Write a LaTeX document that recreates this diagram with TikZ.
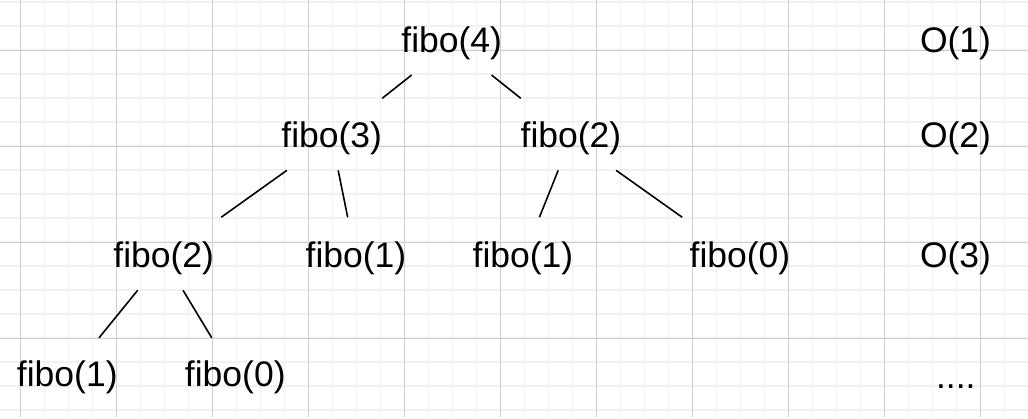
\documentclass[tikz,border=0pt]{standalone}
\usepackage{fontspec}
\setmainfont{Liberation Sans}
\usetikzlibrary{calc}
\definecolor{gridminor}{HTML}{F1F1F1}
\definecolor{gridmajor}{HTML}{D0D0D0}
\tikzset{
  lbl/.style={anchor=base, inner sep=0pt, text height=25.9pt, text depth=7.5pt, font=\fontsize{35.5}{40}\selectfont, text=black},
  edge/.style={draw=black, line width=1.6pt},
  minorline/.style={draw=gridminor, line width=1.5pt},
  majorline/.style={draw=gridmajor, line width=1pt}
}
\begin{document}
\begin{tikzpicture}[x=1pt,y=-1pt]
\useasboundingbox (0,0) rectangle (1028,418);
\fill[white] (0,0) rectangle (1028,418);
% grid
\foreach \k in {0,...,42} {
  \draw[minorline] ({20.5+24*\k},0) -- ({20.5+24*\k},418);
}
\foreach \k in {0,...,17} {
  \draw[minorline] (0,{2+24*\k}) -- (1028,{2+24*\k});
}
\foreach \k in {0,...,10} {
  \draw[majorline] ({20.5+96*\k},0) -- ({20.5+96*\k},418);
}
\foreach \k in {0,...,3} {
  \draw[majorline] (0,{50+96*\k}) -- (1028,{50+96*\k});
}
% nodes
\node[lbl] (f4)  at (451.7,52.5) {fibo(4)};
\node[lbl] (f3)  at (331.7,147.5) {fibo(3)};
\node[lbl] (f2r) at (571,147.5) {fibo(2)};
\node[lbl] (f2l) at (163.7,267.5) {fibo(2)};
\node[lbl] (f1a) at (356,267.5) {fibo(1)};
\node[lbl] (f1b) at (523,267.5) {fibo(1)};
\node[lbl] (f0a) at (740,267.5) {fibo(0)};
\node[lbl] (f1c) at (67.3,386) {fibo(1)};
\node[lbl] (f0b) at (235.3,386) {fibo(0)};
\node[lbl] (o1)  at (955.5,52.5) {O(1)};
\node[lbl] (o2)  at (955.5,147.5) {O(2)};
\node[lbl] (o3)  at (955.5,267.5) {O(3)};
\node[lbl] (dots) at (955.8,388) {....};
% edges
\draw[edge] ($(f4)!0.334!(f3)$) -- ($(f4)!0.579!(f3)$);
\draw[edge] ($(f4)!0.334!(f2r)$) -- ($(f4)!0.579!(f2r)$);
\draw[edge] ($(f3)!0.267!(f2l)$) -- ($(f3)!0.658!(f2l)$);
\draw[edge] ($(f3)!0.267!(f1a)$) -- ($(f3)!0.658!(f1a)$);
\draw[edge] ($(f2r)!0.267!(f1b)$) -- ($(f2r)!0.658!(f1b)$);
\draw[edge] ($(f2r)!0.267!(f0a)$) -- ($(f2r)!0.658!(f0a)$);
\draw[edge] ($(f2l)!0.27!(f1c)$) -- ($(f2l)!0.671!(f1c)$);
\draw[edge] ($(f2l)!0.27!(f0b)$) -- ($(f2l)!0.671!(f0b)$);
\end{tikzpicture}
\end{document}
